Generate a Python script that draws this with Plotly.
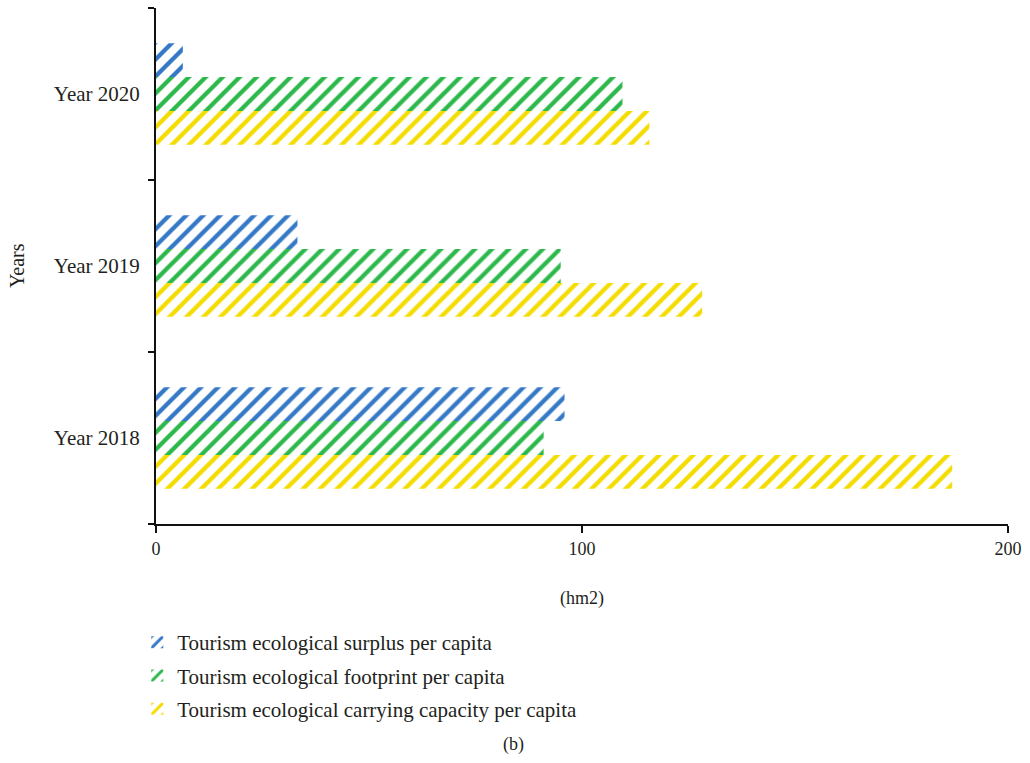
import plotly.graph_objects as go

years = ["Year 2018", "Year 2019", "Year 2020"]
surplus = [95.9, 33.2, 6.3]
footprint = [91.0, 95.0, 109.5]
capacity = [186.9, 128.2, 115.8]

series_names = [
    "Tourism ecological surplus per capita",
    "Tourism ecological footprint per capita",
    "Tourism ecological carrying capacity per capita",
]
colors = ["#3478c6", "#2cb84b", "#f4dc00"]
x_ticks = [0, 100, 200]

FONT = "Liberation Serif"
INK = "#231f20"

fig = go.Figure()
# added bottom-to-top within each group: capacity, footprint, surplus;
# legendrank lists them top-down as surplus, footprint, capacity
for rank, name, vals, col in [
    (3, series_names[2], capacity, colors[2]),
    (2, series_names[1], footprint, colors[1]),
    (1, series_names[0], surplus, colors[0]),
]:
    fig.add_trace(go.Bar(
        y=years, x=vals, name=name, orientation="h",
        legendgroup=name, legendrank=rank,
        marker=dict(
            color="white",
            line=dict(width=0),
            pattern=dict(shape="/", fgcolor=col, bgcolor="white",
                         size=12, solidity=0.36, fillmode="replace"),
        ),
    ))

fig.update_layout(
    width=1030, height=763,
    margin=dict(l=156, r=19, t=8, b=239),
    paper_bgcolor="white", plot_bgcolor="white",
    barmode="group", bargap=0.41, bargroupgap=0,
    font=dict(family=FONT, size=17, color=INK),
    showlegend=True,
    legend=dict(
        x=-0.022, y=-0.19, xanchor="left", yanchor="top",
        traceorder="grouped", orientation="v",
        font=dict(family=FONT, size=21, color=INK),
        itemwidth=30, tracegroupgap=3,
        bgcolor="rgba(0,0,0,0)",
    ),
    xaxis=dict(
        range=[0, 200], tickvals=x_ticks, ticktext=[str(v) for v in x_ticks],
        showgrid=False, zeroline=False,
        showline=True, linecolor="#111", linewidth=2,
        ticks="outside", ticklen=7, tickwidth=1.5, tickcolor="#111",
        tickfont=dict(family=FONT, size=18),
        title=dict(text="(hm2)", font=dict(family=FONT, size=18), standoff=34),
    ),
    yaxis=dict(
        type="category", categoryorder="array", categoryarray=years,
        showgrid=False, zeroline=False,
        showline=True, linecolor="#111", linewidth=2,
        ticks="outside", ticklen=6, tickwidth=1.5, tickcolor="#111",
        tickson="boundaries",
        tickfont=dict(family=FONT, size=21),
        ticklabelstandoff=10,
    ),
    annotations=[
        dict(text="Years", xref="paper", yref="paper", x=-0.163, y=0.5,
             xanchor="center", yanchor="middle", textangle=-90,
             showarrow=False, font=dict(family=FONT, size=20, color=INK)),
        dict(text="(b)", xref="paper", yref="paper", x=0.42, y=-0.428,
             xanchor="center", yanchor="middle",
             showarrow=False, font=dict(family=FONT, size=18, color=INK)),
    ],
)

fig.write_html("out.html")
